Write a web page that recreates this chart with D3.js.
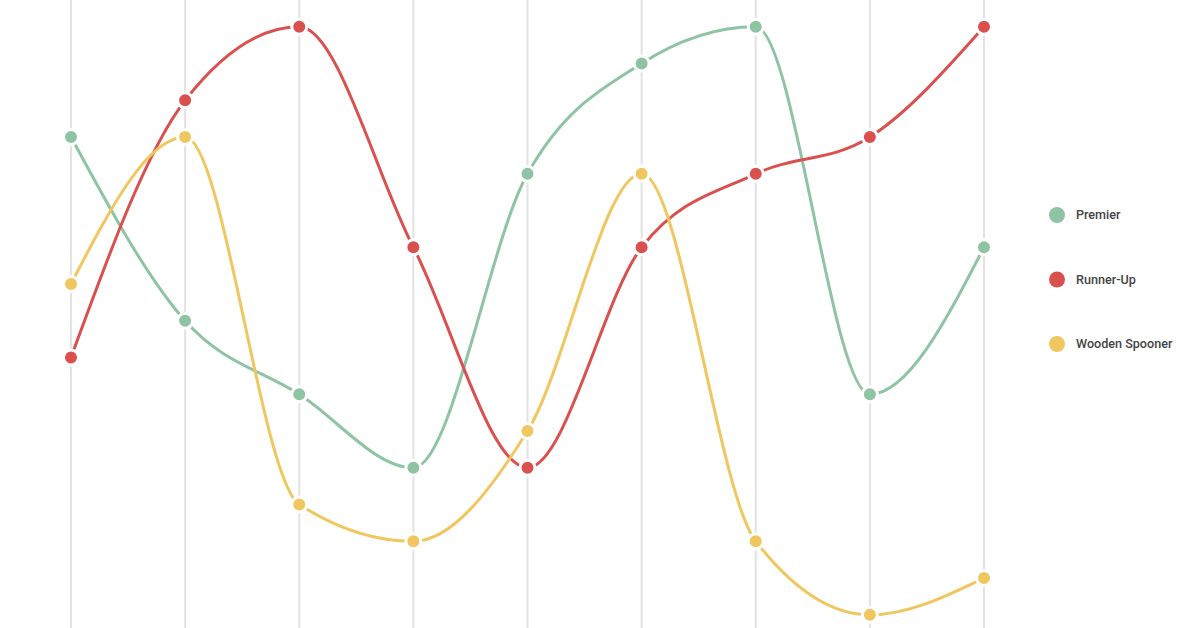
<!DOCTYPE html>
<html>
<head>
<meta charset="utf-8">
<script src="https://cdn.jsdelivr.net/npm/d3@7"></script>
<style>
  html, body { margin: 0; padding: 0; background: #fff; }
  svg { display: block; }
</style>
</head>
<body>
<svg id="chart" width="1200" height="628"></svg>
<script>
const categories = ["R1", "R2", "R3", "R4", "R5", "R6", "R7", "R8", "R9"];
const seriesNames = ["Premier", "Runner-Up", "Wooden Spooner"];
const premier = [4, 9, 11, 13, 5, 2, 1, 11, 7];
const runnerUp = [10, 3, 1, 7, 13, 7, 5, 4, 1];
const woodenSpooner = [8, 4, 14, 15, 12, 5, 15, 17, 16];
const colors = ["#8ec4a4", "#d9504f", "#f0c75f"];

const series = [premier, runnerUp, woodenSpooner];

const svg = d3.select("#chart");
const W = 1200, H = 628;

const x = d3.scalePoint().domain(categories).range([71, 984]);
const y = d3.scaleLinear().domain([1, 17]).range([26.8, 614.8]);

// vertical grid lines
svg.append("g")
  .selectAll("line")
  .data(categories)
  .join("line")
  .attr("x1", d => x(d)).attr("x2", d => x(d))
  .attr("y1", 0).attr("y2", H)
  .attr("stroke", "#e2e2e2")
  .attr("stroke-width", 2);

const line = d3.line()
  .x((d, i) => x(categories[i]))
  .y(d => y(d))
  .curve(d3.curveMonotoneX);

const gSeries = svg.append("g");
series.forEach((vals, si) => {
  gSeries.append("path")
    .datum(vals)
    .attr("d", line)
    .attr("fill", "none")
    .attr("stroke", colors[si])
    .attr("stroke-width", 3);
});
series.forEach((vals, si) => {
  gSeries.append("g")
    .selectAll("circle")
    .data(vals)
    .join("circle")
    .attr("cx", (d, i) => x(categories[i]))
    .attr("cy", d => y(d))
    .attr("r", 7.5)
    .attr("fill", colors[si])
    .attr("stroke", "#fff")
    .attr("stroke-width", 3);
});

// legend
const legendY = d3.scalePoint().domain(seriesNames).range([215, 344]);
const lg = svg.append("g")
  .selectAll("g")
  .data(seriesNames)
  .join("g")
  .attr("transform", d => `translate(1057,${legendY(d)})`);
lg.append("circle")
  .attr("r", 8)
  .attr("fill", (d, i) => colors[i]);
lg.append("text")
  .attr("x", 19)
  .attr("dy", "0.35em")
  .attr("font-family", "Roboto, sans-serif")
  .attr("font-size", 12.6)
  .attr("font-weight", 500)
  .attr("fill", "#444")
  .text(d => d);
</script>
</body>
</html>
